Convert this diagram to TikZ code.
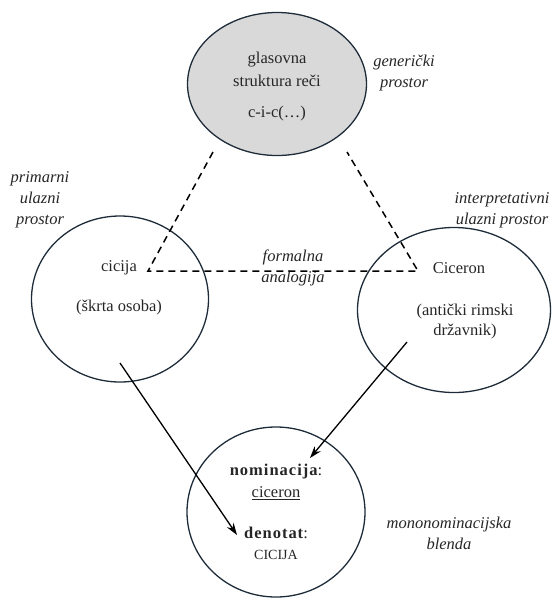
\documentclass[tikz,border=0pt]{standalone}
\usepackage{fontspec}
\setmainfont{Liberation Serif}
\usepackage{xcolor}
\usepackage{tikz}
\usetikzlibrary{shapes,arrows.meta,positioning,calc}

\definecolor{rim}{RGB}{30,44,58}
\definecolor{genfill}{RGB}{217,217,217}

\tikzset{
    space/.style={draw=rim, line width=1.3pt, ellipse, inner sep=0pt},
    txt/.style={font=\fontsize{16.5}{20}\selectfont, text=black!85, inner sep=1pt},
    lbl/.style={txt, font=\fontsize{16.5}{21}\selectfont\itshape, align=center},
    link/.style={line width=1.5pt, dash pattern=on 7pt off 5pt},
    proj/.style={line width=1.3pt, -{Stealth[length=12pt,width=8pt]}}
}

\begin{document}
\begin{tikzpicture}[x=1pt, y=-1pt]
    \useasboundingbox (0,0) rectangle (554,598);

    % mental spaces
    \node[space, fill=genfill, minimum width=179, minimum height=143] (gen) at (277,84) {};
    \node[space, minimum width=177, minimum height=166] (prim) at (120,299) {};
    \node[space, minimum width=193, minimum height=165] (interp) at (454,310) {};
    \node[space, minimum width=178, minimum height=170] (blend) at (276,512) {};

    % generic space
    \node[txt] (glas) at (277,60) {glasovna};
    \node[txt] (strukt) at (277,81) {struktura reči};
    \node[txt] (cic) at (277,114) {c-i-c(\dots)};
    \node[lbl] (genlbl) at (404,73) {generički\\prostor};

    % input spaces
    \node[txt] (cicija) at (119,268) {cicija};
    \node[txt] (skrta) at (119,308) {(škrta osoba)};
    \node[lbl] (primlbl) at (40,200) {primarni\\ulazni\\prostor};
    \node[txt] (ciceron) at (459,268) {Ciceron};
    \node[txt, align=center] (anticki) at (465,322) {(antički rimski\\državnik)};
    \node[lbl] (interplbl) at (502,210) {interpretativni\\ulazni prostor};
    \node[lbl] (analog) at (293,268) {formalna\\analogija};

    % blend
    \node[txt] (nom) at (276,472) {{\addfontfeature{LetterSpace=6}\bfseries nominacija}:};
    \node[txt] (nomval) at (276,493) {\underline{ciceron}};
    \node[txt] (den) at (276,533) {{\addfontfeature{LetterSpace=6}\bfseries denotat}:};
    \node[txt, font=\fontsize{14}{16}\selectfont] (denval) at (276,555) {CICIJA};
    \node[lbl] (blendlbl) at (449,533) {mononominacijska\\blenda};

    % dashed analogy links
    \coordinate (genl) at (213,152);
    \coordinate (genr) at (347,152);
    \coordinate (lcorner) at (148,271);
    \coordinate (rcorner) at (418,271);
    \draw[link] (genl) -- (lcorner) -- (rcorner) -- (genr);

    % projections into the blend
    \coordinate (primout) at (120,363);
    \coordinate (interpout) at (407,342);
    \coordinate (denin) at (237,535);
    \coordinate (nomin) at (310,458);
    \draw[proj] (primout) -- (denin);
    \draw[proj] (interpout) -- (nomin);
\end{tikzpicture}
\end{document}
